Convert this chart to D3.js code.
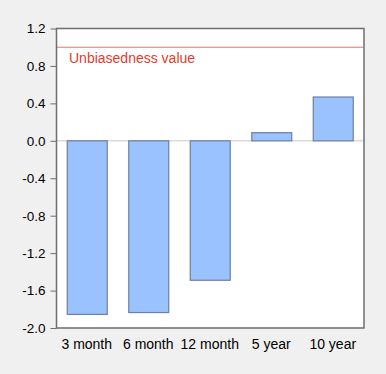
<!DOCTYPE html>
<html>
<head>
<meta charset="utf-8">
<script src="https://cdn.jsdelivr.net/npm/d3@7"></script>
<style>
  body { margin: 0; background: #f0f0f0; }
  svg { display: block; font-family: "Liberation Sans", Arial, sans-serif; }
</style>
</head>
<body>
<script>
const categories = ['3 month', '6 month', '12 month', '5 year', '10 year']
const values = [-1.855, -1.835, -1.49, 0.087, 0.468]
const yTicks = [1.2, 0.8, 0.4, 0.0, -0.4, -0.8, -1.2, -1.6, -2.0]
const refValue = 1.0
const refLabel = 'Unbiasedness value'

const width = 386
const height = 374
const margin = { top: 28, right: 22.5, bottom: 46.5, left: 56 }

const svg = d3.select('body').append('svg')
  .attr('width', width)
  .attr('height', height)

const x = d3.scaleBand()
  .domain(categories)
  .range([margin.left, width - margin.right])
  .paddingInner(0.35)
  .paddingOuter(0.175)

const y = d3.scaleLinear()
  .domain([-2.0, 1.2])
  .range([height - margin.bottom, margin.top])

// plot background
svg.append('rect')
  .attr('x', margin.left)
  .attr('y', margin.top)
  .attr('width', width - margin.left - margin.right)
  .attr('height', height - margin.top - margin.bottom)
  .attr('fill', 'white')

// zero line
svg.append('line')
  .attr('x1', margin.left)
  .attr('x2', width - margin.right)
  .attr('y1', y(0) + 0.5)
  .attr('y2', y(0) + 0.5)
  .attr('stroke', '#c8c8c8')

// reference line
svg.append('line')
  .attr('x1', margin.left)
  .attr('x2', width - margin.right)
  .attr('y1', y(refValue) + 0.5)
  .attr('y2', y(refValue) + 0.5)
  .attr('stroke', '#f07070')

svg.append('text')
  .attr('x', margin.left + 13)
  .attr('y', y(refValue) + 16)
  .attr('fill', '#e03c2c')
  .style('font-size', '14px')
  .text(refLabel)

// bars
svg.selectAll('.bar')
  .data(values)
  .enter()
  .append('rect')
  .attr('class', 'bar')
  .attr('x', (d, i) => x(categories[i]) + 0.5)
  .attr('y', (d) => Math.min(y(d), y(0)) + 0.5)
  .attr('width', x.bandwidth())
  .attr('height', (d) => Math.abs(y(d) - y(0)))
  .attr('fill', '#99c2ff')
  .attr('stroke', '#6f7f9f')
  .style('stroke-width', '1.2px')

// frame
svg.append('rect')
  .attr('x', margin.left + 0.5)
  .attr('y', margin.top + 0.5)
  .attr('width', width - margin.left - margin.right)
  .attr('height', height - margin.top - margin.bottom)
  .attr('fill', 'none')
  .attr('stroke', '#6e6e6e')
  .style('stroke-width', '1.5px')

// y axis (plain hyphen for negatives, like the original)
const fmt = (d) => d3.format('.1f')(d).replace('\u2212', '-')
const yAxis = svg.append('g')
  .attr('transform', `translate(${margin.left + 0.5},0.5)`)
  .call(d3.axisLeft(y).tickValues(yTicks).tickFormat(fmt).tickSize(6).tickPadding(5))
yAxis.select('.domain').remove()
yAxis.selectAll('line').attr('stroke', '#6e6e6e')
yAxis.selectAll('text')
  .attr('fill', '#000')
  .style('font-size', '13.5px')
  .style('font-family', '"Liberation Sans", Arial, sans-serif')

// x labels
svg.selectAll('.xlab')
  .data(categories)
  .enter()
  .append('text')
  .attr('class', 'xlab')
  .attr('x', (d) => x(d) + x.bandwidth() / 2)
  .attr('y', height - margin.bottom + 21)
  .attr('text-anchor', 'middle')
  .attr('fill', '#000')
  .style('font-size', '14px')
  .text((d) => d)
</script>
</body>
</html>
